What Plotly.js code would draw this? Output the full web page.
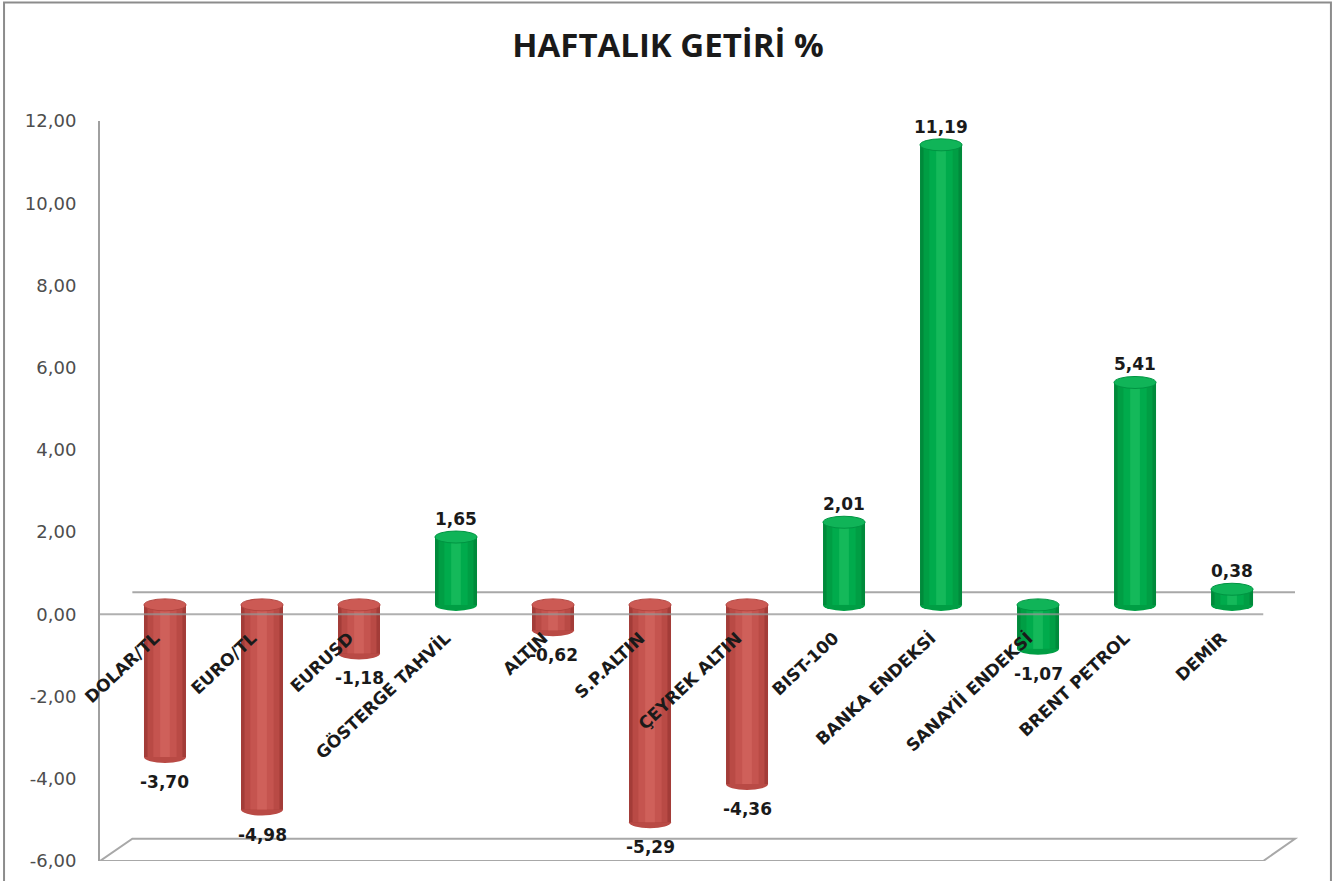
<!DOCTYPE html>
<html>
<head>
<meta charset="utf-8">
<script src="https://cdn.plot.ly/plotly-3.0.1.min.js"></script>
<style>html,body{margin:0;padding:0;background:#fff}#chart{width:1336px;height:881px}</style>
</head>
<body>
<div id="chart"></div>
<script>
// ---- data ----
const categories = ['DOLAR/TL','EURO/TL','EURUSD','GÖSTERGE TAHVİL','ALTIN','S.P.ALTIN','ÇEYREK ALTIN','BIST-100','BANKA ENDEKSİ','SANAYİİ ENDEKSİ','BRENT PETROL','DEMİR'];
const weeklyReturn = [-3.70, -4.98, -1.18, 1.65, -0.62, -5.29, -4.36, 2.01, 11.19, -1.07, 5.41, 0.38];
const tickValues = [-6, -4, -2, 0, 2, 4, 6, 8, 10, 12];
const tickLabels = ['-6,00','-4,00','-2,00','0,00','2,00','4,00','6,00','8,00','10,00','12,00'];

// ---- style ----
const colorGroup = ['red','red','red','green','red','red','red','green','green','green','green','green'];
const palette = {
  red:   {layers: ['#a33c38','#b94a45','#c5544f','#cf605a'], cap: '#cc5a54', capLine: '#b3443f'},
  green: {layers: ['#008a3b','#009e44','#00ab4c','#14b95a'], cap: '#10b458', capLine: '#009442'}
};
const layerWidths = [0.433, 0.36, 0.24, 0.1];
const OFFSET = 0.23;      // 3D depth shift of the bars' base against the front axis
const DEPTH_Y = 0.54;     // vertical depth of the floor/back wall (axis units)
const DEPTH_X = 0.027;    // horizontal depth (paper units)
const fmt = v => v.toFixed(2).replace('.', ',');

const traces = layerWidths.map((w, k) => ({
  type: 'bar',
  x: categories,
  y: weeklyReturn,
  base: 0,
  width: w,
  marker: {color: colorGroup.map(g => palette[g].layers[k]), line: {width: 0}},
  hoverinfo: k === 0 ? 'x+y' : 'skip',
  showlegend: false
}));

const shapes = [];
// back zero line (behind bars)
shapes.push({type:'line', xref:'paper', yref:'y', x0:DEPTH_X, x1:0.9975, y0:-OFFSET+DEPTH_Y, y1:-OFFSET+DEPTH_Y,
  line:{color:'#a8a8a8', width:2}, layer:'below'});
// floor
const yFront = -6 - OFFSET, yBack = -6 - OFFSET + DEPTH_Y;
shapes.push({type:'path', xref:'paper', yref:'y',
  path:`M0,${yFront} L0.971,${yFront} L0.9975,${yBack} L${DEPTH_X},${yBack} Z`,
  line:{color:'#a8a8a8', width:2}, fillcolor:'rgba(0,0,0,0)', layer:'below'});
// cylinder ends
weeklyReturn.forEach((v, i) => {
  const p = palette[colorGroup[i]];
  const top = Math.max(v, 0), bot = Math.min(v, 0);
  shapes.push({type:'circle', xref:'x', yref:'y', xsizemode:'pixel', ysizemode:'pixel',
    xanchor:i, yanchor:bot, x0:-21, x1:21, y0:-6, y1:6,
    fillcolor:p.layers[1], line:{width:0}, layer:'below'});
  shapes.push({type:'circle', xref:'x', yref:'y', xsizemode:'pixel', ysizemode:'pixel',
    xanchor:i, yanchor:top, x0:-21, x1:21, y0:-6, y1:6,
    fillcolor:p.cap, line:{color:p.capLine, width:1}, layer:'above'});
});
// front zero line (in front of bars)
shapes.push({type:'line', xref:'paper', yref:'y', x0:0, x1:0.971, y0:-OFFSET, y1:-OFFSET,
  line:{color:'rgba(150,150,150,0.75)', width:2}, layer:'above'});
// chart frame
shapes.push({type:'rect', xref:'paper', yref:'paper', x0:-0.0801, x1:1.0275, y0:-0.2, y1:1.16,
  line:{color:'#8c8c8c', width:2}, fillcolor:'rgba(0,0,0,0)', layer:'below'});

const annotations = weeklyReturn.map((v, i) => ({
  x: categories[i], y: v, xref:'x', yref:'y',
  text: fmt(v), showarrow:false,
  yanchor:'middle', yshift: v >= 0 ? 18 : -25,
  font:{family:'DejaVu Sans', size:17, color:'#1a1a1a', weight:'bold'}
}));

const layout = {
  width:1336, height:881,
  margin:{l:100, r:38, t:121, b:20},
  paper_bgcolor:'#fff', plot_bgcolor:'rgba(0,0,0,0)',
  barmode:'overlay',
  title:{text:'HAFTALIK GETİRİ %', x:0.5, xanchor:'center', y:1-45/881, yanchor:'middle',
    font:{family:'Open Sans', size:33, color:'#1a1a1a', weight:'bold'}},
  xaxis:{type:'category', range:[-0.67, 11.68], anchor:'free', position:0.3338,
    showline:false, showgrid:false, zeroline:false, ticks:'', tickangle:-43,
    ticklabelshift:-10, ticklabelstandoff:10,
    tickfont:{family:'DejaVu Sans', size:17, color:'#1a1a1a', weight:'bold'}, fixedrange:true},
  yaxis:{range:[-6 - OFFSET, 12 - OFFSET], tickvals:tickValues.map(t => t - OFFSET), ticktext:tickLabels,
    showline:true, linecolor:'#a0a0a0', linewidth:2, showgrid:false, zeroline:false,
    ticks:'', ticklabelstandoff:18,
    tickfont:{family:'DejaVu Sans', size:18, color:'#4d4d4d'}, fixedrange:true},
  shapes: shapes,
  annotations: annotations,
  showlegend:false
};

Plotly.newPlot('chart', traces, layout, {displayModeBar:false, staticPlot:true});
</script>
</body>
</html>
